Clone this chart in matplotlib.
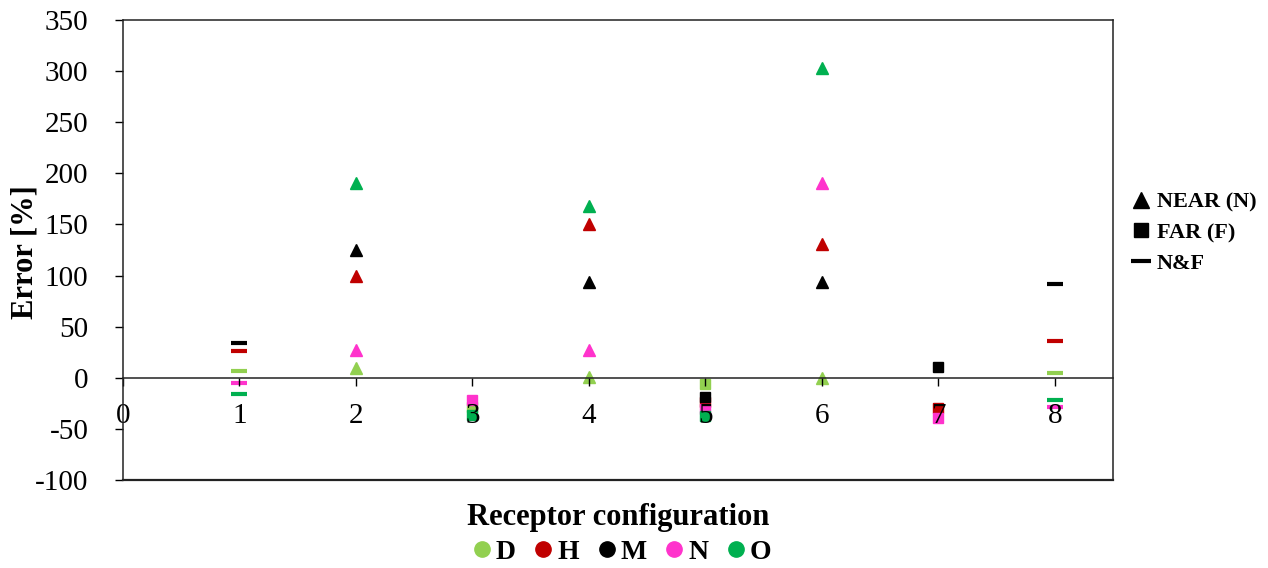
import numpy as np
import matplotlib.pyplot as plt
from matplotlib.lines import Line2D

plt.rcParams['font.family'] = ['Liberation Serif', 'DejaVu Serif']
plt.rcParams['axes.unicode_minus'] = False

# series names and colours
series = ['D', 'H', 'M', 'N', 'O']
colors = ['#92D050', '#C00000', '#000000', '#FF33CC', '#00B050']

# NEAR (N) - triangles
near_x = [2, 4, 6]
near_D = [10, 1, 0]
near_H = [100, 150, 131]
near_M = [125, 94, 94]
near_N = [27, 27, 191]
near_O = [191, 168, 303]

# FAR (F) - squares
far_x = [3, 5, 7]
far_D = [-29, -6, np.nan]
far_H = [np.nan, -24, -30]
far_M = [np.nan, -19, 11]
far_N = [-22, -31, -39]
far_O = [-36, -37, np.nan]

# N&F - dashes
nf_x = [1, 8]
nf_D = [7, 5]
nf_H = [26, 36]
nf_M = [34, 92]
nf_N = [-5, -29]
nf_O = [-16, -22]

near = [near_D, near_H, near_M, near_N, near_O]
far = [far_D, far_H, far_M, far_N, far_O]
nf = [nf_D, nf_H, nf_M, nf_N, nf_O]

fig = plt.figure(figsize=(12.68, 5.68), dpi=100)
ax = fig.add_axes([123/1268, 1-480/568, (1113-123)/1268, 460/568])

# markers below the tick labels (digits show through, as in the original)
for i in range(len(series)):
    c = colors[i]
    ax.plot(near_x, near[i], ls='none', marker='^', ms=8, color=c, mec=c, zorder=1)
    ax.plot(far_x, far[i], ls='none', marker='s', ms=7, color=c, mec=c, zorder=1)
    ax.plot(nf_x, nf[i], ls='none', marker='_', ms=11, mew=3, color=c, zorder=1)

ax.set_xlim(0, 8.5)
ax.set_ylim(-100, 350)
ax.set_xticks(range(0, 9))
ax.set_yticks(range(-100, 351, 50))

ax.spines['bottom'].set_position(('data', 0))
for s in ax.spines.values():
    s.set_linewidth(1.1)
    s.set_color('#222222')
ax.axhline(-100, color='#222222', lw=1.6, clip_on=False)

ax.tick_params(axis='y', direction='out', length=6, width=1, pad=19, labelsize=21)
ax.tick_params(axis='x', direction='out', length=6, width=1, pad=12, labelsize=21)

fig.text(25/1268, 1-252/568, 'Error [%]', rotation=90, ha='center', va='center',
         fontsize=22, fontweight='bold')
fig.text(618/1268, 1-518/568, 'Receptor configuration', ha='center', va='center',
         fontsize=22, fontweight='bold')

# marker type legend (right)
type_handles = [
    Line2D([], [], ls='none', marker='^', ms=11, color='k'),
    Line2D([], [], ls='none', marker='s', ms=10, color='k'),
    Line2D([], [], ls='none', marker='_', ms=14, mew=3, color='k'),
]
fig.legend(type_handles, ['NEAR (N)', 'FAR (F)', 'N&F'], loc='upper left',
           bbox_to_anchor=(1119/1268, 1-181/568), frameon=False,
           prop={'weight': 'bold', 'size': 16}, handlelength=1.0,
           handletextpad=0.2, labelspacing=0.45, borderpad=0)

# series legend (bottom)
ser_handles = [Line2D([], [], ls='none', marker='o', ms=11, color=c) for c in colors]
fig.legend(ser_handles, series, loc='center', ncol=5,
           bbox_to_anchor=(621/1268, 1-552/568), frameon=False,
           prop={'weight': 'bold', 'size': 20}, handlelength=0.8,
           handletextpad=0.1, columnspacing=0.6, borderpad=0)

fig.savefig('out.png', dpi=100)
